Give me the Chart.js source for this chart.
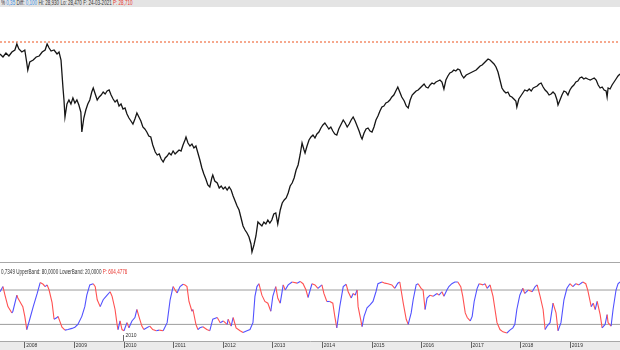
<!DOCTYPE html>
<html>
<head>
<meta charset="utf-8">
<script src="https://cdn.jsdelivr.net/npm/chart.js@4.4.1/dist/chart.umd.min.js"></script>
<style>
  body { margin: 0; background: #fff; font-family: "Liberation Sans", "DejaVu Sans", sans-serif; }
  #wrap { position: relative; width: 620px; height: 350px; overflow: hidden; }
  #topBar { position: absolute; left: 0; top: 0; width: 620px; height: 7px; background: #e4e4e4; overflow: hidden; }
  .hdr { position: absolute; left: 1px; white-space: nowrap; font-size: 6.5px; line-height: 7px; color: #333;
         transform: scaleX(0.7); transform-origin: left center; }
  #priceBox { position: absolute; left: 0; top: 0; width: 620px; height: 262px; }
  #sep { position: absolute; left: 0; top: 262px; width: 620px; height: 1px; background: #a8a8a8; }
  #oscBox { position: absolute; left: 0; top: 263px; width: 620px; height: 87px; }
  .blue { color: #3d8fe0; }
  .red { color: #e8322b; }
</style>
</head>
<body>
<div id="wrap">
  <div id="priceBox"><canvas id="priceChart"></canvas></div>
  <div id="topBar"><div class="hdr" style="top:-1px">% <span class="blue">0,35</span> Diff: <span class="blue">0,100</span> Hi: 28,930 Lo: 28,470 F: 24-03-2021 <span class="red">P: 28,710</span></div></div>
  <div id="sep"></div>
  <div id="oscBox"><canvas id="oscChart"></canvas></div>
  <div class="hdr" style="top:268px">0,7349 UpperBand: 80,0000 LowerBand: 20,0000 <span class="red">P: 604,4776</span></div>
</div>
<script>
const xMin = 2007.5;
const xMax = 2020.0;
const yearTicks = [2008, 2009, 2010, 2011, 2012, 2013, 2014, 2015, 2016, 2017, 2018, 2019];
const markYear = 2010;
const resistance = 32.11;
const upperBand = 80;
const lowerBand = 20;

// price, dates as decimal years
const priceDates = [2007.50,2007.56,2007.62,2007.68,2007.74,2007.80,2007.84,2007.88,2007.94,2008.00,2008.04,2008.06,2008.10,2008.17,2008.23,2008.29,2008.35,2008.41,2008.45,2008.49,2008.53,2008.59,2008.65,2008.69,2008.73,2008.77,2008.79,2008.81,2008.85,2008.89,2008.93,2008.97,2009.01,2009.05,2009.09,2009.13,2009.15,2009.19,2009.23,2009.27,2009.31,2009.35,2009.38,2009.42,2009.46,2009.50,2009.54,2009.58,2009.62,2009.66,2009.70,2009.74,2009.78,2009.82,2009.86,2009.90,2009.94,2009.98,2010.02,2010.06,2010.10,2010.14,2010.18,2010.22,2010.26,2010.30,2010.34,2010.38,2010.42,2010.46,2010.50,2010.54,2010.58,2010.63,2010.67,2010.71,2010.75,2010.79,2010.83,2010.87,2010.91,2010.95,2010.99,2011.03,2011.07,2011.11,2011.15,2011.19,2011.23,2011.25,2011.29,2011.33,2011.37,2011.41,2011.45,2011.49,2011.53,2011.57,2011.61,2011.65,2011.69,2011.73,2011.77,2011.79,2011.83,2011.88,2011.92,2011.96,2012.00,2012.04,2012.08,2012.12,2012.16,2012.20,2012.24,2012.28,2012.32,2012.36,2012.40,2012.44,2012.48,2012.52,2012.56,2012.58,2012.62,2012.66,2012.70,2012.74,2012.78,2012.82,2012.86,2012.90,2012.94,2012.98,2013.02,2013.06,2013.10,2013.15,2013.19,2013.23,2013.27,2013.31,2013.35,2013.39,2013.43,2013.47,2013.51,2013.55,2013.59,2013.63,2013.65,2013.69,2013.73,2013.77,2013.81,2013.85,2013.89,2013.93,2013.97,2014.01,2014.05,2014.09,2014.13,2014.17,2014.21,2014.25,2014.29,2014.33,2014.38,2014.42,2014.46,2014.50,2014.54,2014.58,2014.62,2014.66,2014.70,2014.74,2014.78,2014.80,2014.84,2014.88,2014.92,2014.96,2015.00,2015.04,2015.08,2015.12,2015.16,2015.20,2015.24,2015.28,2015.32,2015.36,2015.40,2015.44,2015.48,2015.52,2015.56,2015.60,2015.65,2015.69,2015.73,2015.77,2015.81,2015.85,2015.89,2015.93,2015.97,2016.01,2016.05,2016.09,2016.13,2016.17,2016.21,2016.25,2016.29,2016.33,2016.37,2016.41,2016.45,2016.49,2016.53,2016.57,2016.61,2016.65,2016.69,2016.73,2016.77,2016.81,2016.85,2016.90,2016.94,2016.98,2017.02,2017.06,2017.10,2017.14,2017.18,2017.22,2017.26,2017.30,2017.34,2017.38,2017.42,2017.46,2017.50,2017.54,2017.58,2017.62,2017.66,2017.70,2017.74,2017.78,2017.82,2017.86,2017.90,2017.92,2017.96,2018.00,2018.04,2018.08,2018.13,2018.17,2018.21,2018.25,2018.29,2018.33,2018.37,2018.41,2018.45,2018.49,2018.53,2018.57,2018.61,2018.65,2018.69,2018.73,2018.75,2018.79,2018.83,2018.87,2018.91,2018.95,2018.99,2019.03,2019.07,2019.11,2019.15,2019.19,2019.23,2019.27,2019.31,2019.35,2019.40,2019.44,2019.48,2019.52,2019.56,2019.60,2019.64,2019.68,2019.72,2019.74,2019.76,2019.80,2019.84,2019.88,2019.92,2019.96,2020.00];
const priceValues = [30.91,30.61,31.01,30.71,31.11,31.31,31.91,31.41,31.11,31.31,30.01,29.31,30.11,30.31,30.61,30.71,31.11,31.31,31.91,31.51,31.21,31.31,30.91,31.11,30.31,27.51,26.31,24.61,25.91,26.31,25.91,26.51,26.01,26.31,25.81,25.11,23.11,24.51,25.31,25.91,26.31,27.11,27.51,26.91,26.31,26.61,26.81,27.11,26.91,27.21,27.31,26.81,26.41,26.11,26.31,25.71,25.91,25.41,25.51,24.91,24.51,24.21,23.91,24.41,25.01,24.61,24.21,23.61,23.41,23.11,22.71,22.61,21.81,21.11,20.81,20.91,20.41,20.11,20.51,20.71,21.01,20.81,21.21,20.91,21.11,21.31,21.21,21.81,22.31,22.61,22.01,21.71,21.91,21.51,21.71,21.01,20.31,19.51,18.91,18.41,17.81,17.61,18.51,18.81,18.21,18.01,17.51,17.71,17.41,17.61,17.31,17.61,17.31,16.71,16.21,15.71,15.31,14.51,13.71,13.31,13.01,12.61,11.91,11.11,11.81,12.71,14.11,13.91,13.71,14.11,13.91,14.31,14.01,14.31,14.91,15.01,13.91,15.31,16.01,16.31,16.51,17.01,17.71,18.01,18.51,19.31,19.81,20.81,22.01,21.31,21.01,21.71,22.31,22.61,22.81,22.51,22.91,23.11,23.51,23.81,24.01,23.71,23.41,23.61,23.21,22.91,22.81,23.41,23.91,24.31,24.01,23.61,23.91,24.31,24.61,24.21,23.71,23.21,22.61,22.41,23.01,23.41,23.51,23.21,23.11,23.61,24.31,24.71,25.21,25.61,25.71,26.01,26.11,26.31,26.61,26.81,27.21,27.61,27.11,26.61,26.21,25.71,25.51,26.31,26.81,27.01,27.21,27.31,27.51,27.71,27.91,27.61,27.51,27.81,28.01,27.91,28.11,28.21,28.31,28.11,27.41,28.31,28.71,29.01,29.11,29.31,29.21,29.41,29.31,28.81,28.51,28.81,28.91,29.01,29.11,29.21,29.31,29.51,29.71,29.81,30.01,30.21,30.41,30.31,30.11,29.91,29.61,29.11,28.31,27.51,27.21,27.01,27.11,26.71,26.61,26.41,26.21,25.61,26.41,26.71,27.01,27.31,27.21,27.41,27.21,27.51,27.61,27.71,27.91,28.01,27.61,27.31,27.11,26.81,26.91,27.11,26.91,26.31,25.81,26.31,26.81,27.21,27.11,26.81,27.31,27.61,27.81,28.11,28.21,28.51,28.61,28.41,28.51,28.41,28.31,28.41,28.51,28.31,27.81,27.51,27.61,27.31,27.21,26.61,27.51,27.41,27.81,28.11,28.41,28.71,28.91];

// stochastic oscillator
const oscDates = [2007.50,2007.56,2007.60,2007.66,2007.74,2007.76,2007.84,2007.86,2007.94,2007.96,2008.00,2008.04,2008.10,2008.17,2008.25,2008.31,2008.37,2008.41,2008.45,2008.49,2008.55,2008.59,2008.65,2008.67,2008.75,2008.81,2008.87,2008.95,2009.01,2009.07,2009.15,2009.21,2009.25,2009.31,2009.38,2009.42,2009.46,2009.52,2009.58,2009.66,2009.72,2009.76,2009.82,2009.86,2009.88,2009.92,2009.96,2010.00,2010.06,2010.10,2010.16,2010.22,2010.26,2010.30,2010.36,2010.40,2010.46,2010.52,2010.58,2010.65,2010.71,2010.79,2010.87,2010.93,2010.99,2011.03,2011.07,2011.13,2011.19,2011.23,2011.27,2011.31,2011.37,2011.39,2011.45,2011.49,2011.53,2011.59,2011.67,2011.73,2011.79,2011.88,2011.94,2012.00,2012.08,2012.10,2012.16,2012.20,2012.26,2012.34,2012.40,2012.48,2012.54,2012.60,2012.64,2012.68,2012.72,2012.78,2012.84,2012.90,2012.96,2013.00,2013.06,2013.10,2013.15,2013.21,2013.25,2013.31,2013.39,2013.49,2013.55,2013.61,2013.67,2013.71,2013.79,2013.85,2013.91,2013.99,2014.03,2014.09,2014.15,2014.21,2014.25,2014.29,2014.35,2014.42,2014.48,2014.52,2014.58,2014.62,2014.66,2014.70,2014.72,2014.80,2014.84,2014.90,2014.96,2015.02,2015.08,2015.12,2015.20,2015.26,2015.32,2015.40,2015.46,2015.52,2015.56,2015.63,2015.69,2015.73,2015.79,2015.83,2015.89,2015.93,2015.99,2016.03,2016.07,2016.11,2016.17,2016.23,2016.31,2016.35,2016.41,2016.45,2016.51,2016.55,2016.61,2016.67,2016.73,2016.79,2016.83,2016.88,2016.92,2016.98,2017.02,2017.06,2017.12,2017.16,2017.24,2017.28,2017.32,2017.38,2017.44,2017.48,2017.52,2017.58,2017.64,2017.72,2017.78,2017.84,2017.88,2017.92,2017.98,2018.04,2018.08,2018.15,2018.23,2018.29,2018.33,2018.39,2018.45,2018.49,2018.53,2018.59,2018.65,2018.71,2018.75,2018.81,2018.87,2018.93,2018.99,2019.05,2019.11,2019.17,2019.25,2019.31,2019.35,2019.42,2019.46,2019.50,2019.54,2019.60,2019.64,2019.70,2019.74,2019.76,2019.82,2019.86,2019.92,2019.96,2020.00];
const oscValues = [77,86,71,51,40,43,71,66,54,51,34,11,29,51,74,93,90,86,89,80,58,29,32,34,15,10,11,13,15,20,34,51,71,89,91,86,63,51,63,71,77,69,46,20,11,26,11,9,23,14,26,32,46,34,17,11,14,17,11,9,10,9,23,63,86,80,75,86,90,89,86,60,43,46,20,11,14,16,11,9,29,32,23,26,20,29,17,32,14,9,6,9,11,23,69,86,91,71,60,57,43,69,86,66,57,89,80,89,94,92,95,91,80,67,91,89,83,89,74,60,60,57,34,14,51,86,90,77,66,74,71,80,51,16,34,49,54,60,77,91,94,92,91,89,83,92,94,57,29,20,40,63,89,91,83,80,46,66,71,69,74,71,77,69,80,86,91,94,94,86,69,40,32,26,34,60,83,91,89,91,83,89,69,46,23,11,7,5,10,14,20,46,71,83,74,80,77,86,89,69,46,11,17,23,57,40,9,23,63,83,91,86,91,89,94,91,80,51,57,46,60,37,14,20,37,23,17,46,80,91,94];

if (priceDates.length !== priceValues.length) throw new Error('price ' + priceDates.length + ' vs ' + priceValues.length);
if (oscDates.length !== oscValues.length) throw new Error('osc ' + oscDates.length + ' vs ' + oscValues.length);

const tickFont = { family: '"Liberation Sans Narrow", "Liberation Sans", sans-serif', size: 5 };

new Chart(document.getElementById('priceChart'), {
  type: 'line',
  data: {
    datasets: [
      {
        data: priceDates.map((d, i) => ({ x: d, y: priceValues[i] })),
        borderColor: '#161616',
        borderWidth: 1.3,
        pointRadius: 0,
        tension: 0
      },
      {
        data: [{ x: xMin, y: resistance }, { x: xMax, y: resistance }],
        borderColor: '#f27a50',
        borderWidth: 1.3,
        borderDash: [2, 2],
        pointRadius: 0
      }
    ]
  },
  options: {
    animation: false,
    responsive: true,
    maintainAspectRatio: false,
    layout: { padding: { top: 8, left: 0, right: 0, bottom: 0 } },
    plugins: { legend: { display: false }, tooltip: { enabled: false } },
    scales: {
      x: { type: 'linear', min: xMin, max: xMax, display: false },
      y: { min: 10.11, max: 35.51, display: false }
    }
  }
});

const stripPlugin = {
  id: 'strip',
  beforeDraw(chart) {
    const sx = chart.scales.x;
    const ctx = chart.ctx;
    ctx.save();
    ctx.fillStyle = '#ebebeb';
    ctx.fillRect(0, sx.top, chart.width, sx.bottom - sx.top);
    ctx.restore();
  },
  afterDraw(chart) {
    // small year marker inside the oscillator panel
    const sx = chart.scales.x;
    const px = Math.round(sx.getPixelForValue(markYear)) - 0.5;
    const bottom = chart.chartArea.bottom;
    const ctx = chart.ctx;
    ctx.save();
    ctx.strokeStyle = '#666';
    ctx.lineWidth = 1;
    ctx.beginPath();
    ctx.moveTo(px, bottom - 6);
    ctx.lineTo(px, bottom);
    ctx.stroke();
    ctx.fillStyle = '#333';
    ctx.font = '5px ' + tickFont.family;
    ctx.textBaseline = 'middle';
    ctx.fillText(String(markYear), px + 2, bottom - 5);
    ctx.restore();
  }
};

new Chart(document.getElementById('oscChart'), {
  type: 'line',
  data: {
    datasets: [
      {
        data: oscDates.map((d, i) => ({ x: d, y: oscValues[i] })),
        borderWidth: 1.1,
        pointRadius: 0,
        tension: 0,
        borderColor: '#5252ff',
        segment: {
          borderColor: c => c.p1.parsed.y < c.p0.parsed.y ? '#ff5252' : '#5252ff'
        }
      },
      {
        data: [{ x: xMin, y: upperBand }, { x: xMax, y: upperBand }],
        borderColor: '#9d9d9d',
        borderWidth: 1,
        pointRadius: 0
      },
      {
        data: [{ x: xMin, y: lowerBand }, { x: xMax, y: lowerBand }],
        borderColor: '#9d9d9d',
        borderWidth: 1,
        pointRadius: 0
      }
    ]
  },
  options: {
    animation: false,
    responsive: true,
    maintainAspectRatio: false,
    layout: { padding: { top: 15, left: 0, right: 0, bottom: 0 } },
    plugins: { legend: { display: false }, tooltip: { enabled: false } },
    scales: {
      x: {
        type: 'linear',
        min: xMin,
        max: xMax,
        afterBuildTicks: s => { s.ticks = yearTicks.map(v => ({ value: v })); },
        afterFit: s => { s.height = 9; },
        grid: { drawOnChartArea: false, drawTicks: true, tickLength: 7, color: '#666' },
        border: { display: true, color: '#a8a8a8' },
        ticks: {
          align: 'start',
          padding: -5,
          autoSkip: false,
          maxRotation: 0,
          color: '#333',
          font: tickFont,
          callback: v => ' ' + v
        }
      },
      y: { min: -9, max: 101, display: false }
    }
  },
  plugins: [stripPlugin]
});
</script>
</body>
</html>
